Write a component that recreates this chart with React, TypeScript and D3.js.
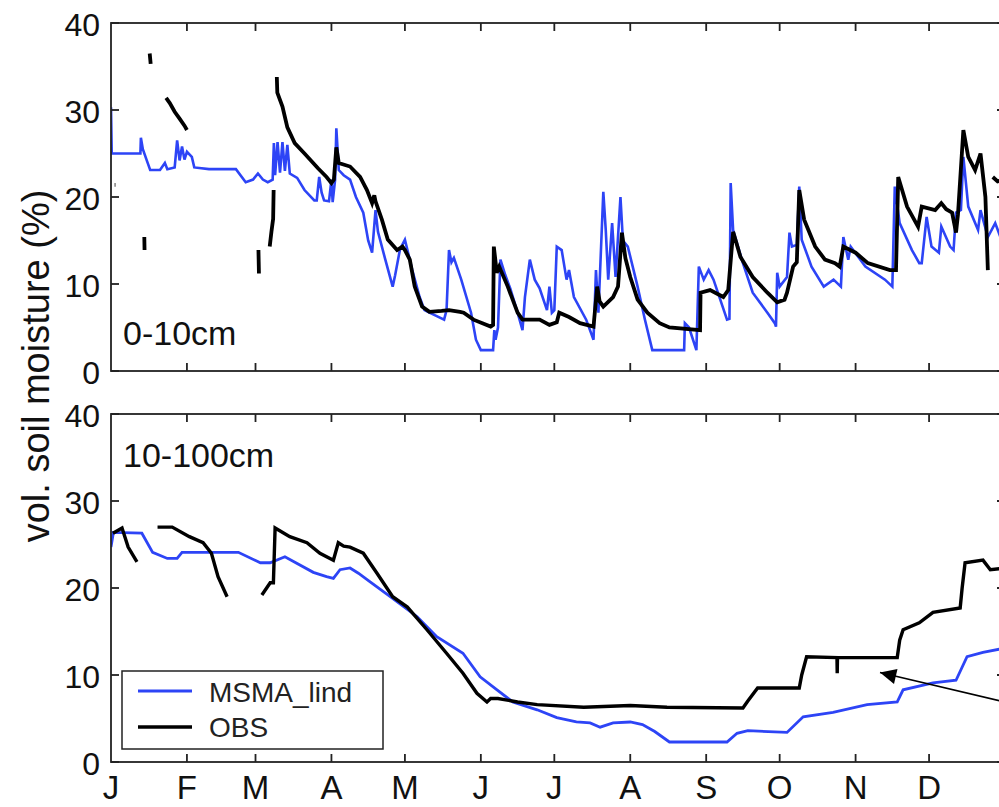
import React from "react";
import * as d3 from "d3";

type P = [number, number] | null;

const monthLabels = ["J", "F", "M", "A", "M", "J", "J", "A", "S", "O", "N", "D"];
const monthStarts = [0, 31, 59, 90, 120, 151, 181, 212, 243, 273, 304, 334];
const yTicks = [0, 10, 20, 30, 40];
const seriesNames = ["MSMA_lind", "OBS"];
const panelLabels = ["0-10cm", "10-100cm"];

const msmaTop: P[] = [
  [0, 30.3], [0.3, 25], [12, 25], [12.2, 26.8], [13, 25.5], [15, 23.9], [16, 23.1], [20, 23.1], [22, 23.9], [23, 23.2],
  [26, 23.4], [27, 26.5], [28, 24.2], [29, 25.8], [30, 24.3], [31, 25.2], [33, 24.6], [34, 23.4], [40, 23.2], [51, 23.2],
  [55, 21.7], [58, 22], [60, 22.7], [62, 22], [64, 21.7], [66, 22], [66.5, 26.2], [67, 22.5], [68, 26.3], [69, 22.8],
  [70, 26.3], [71, 23], [72, 26], [73, 22.7], [76, 22.2], [79, 20.8], [83, 19.6], [84, 19.6], [85, 22.3], [86, 20.5],
  [87, 19.6], [89, 19.5], [90, 22], [90.5, 19.4], [91.5, 22], [92, 27.9], [93, 23.1], [95, 22.5], [97.6, 22], [100, 20],
  [103, 18.2], [105, 15], [106.6, 13.6], [108, 18.5], [109, 16], [112, 12.8], [115, 9.7], [116, 11], [118, 14], [120, 15.1],
  [123, 11.6], [126, 8.5], [128, 7], [130, 6.7], [133, 6.3], [136, 5.9], [137, 7], [138, 13.9], [139, 12.5], [140, 13],
  [143, 10.5], [147, 6.7], [149, 3.6], [151, 2.4], [156, 2.4], [156.5, 4.7], [157, 3.6], [158, 5], [159, 12.8], [161, 11],
  [163, 9.5], [166, 6.7], [168, 4.7], [169, 8.5], [171, 12.8], [173, 10.5], [175, 9.5], [178, 7], [179, 9.7], [180, 6.7],
  [181, 7], [182, 14.3], [184, 13.9], [186, 10.5], [187, 11.6], [189, 8.5], [194, 5.9], [197, 3.6], [198, 11.6], [199, 6.7],
  [201, 20.6], [202, 16.2], [203, 10.5], [204.6, 17], [206, 10.8], [208, 20], [209, 15], [211, 14.3], [215, 9.7], [218, 5.9],
  [221, 2.4], [234, 2.4], [234.3, 5.5], [236, 5], [239, 2.4], [240, 12], [242, 10.5], [244, 11.6], [246, 10.5], [251.5, 5.9],
  [252.5, 6], [253, 21.6], [254, 16.2], [258, 12.4], [262, 9], [268, 6.7], [271, 5.5], [271.5, 5.1], [272, 11.3], [273, 9.7],
  [276, 10.8], [277, 15.9], [278, 14.3], [280, 14.5], [281, 21.2], [282, 15.1], [286, 12], [291, 9.7], [295, 10.5], [298, 9.7],
  [299, 15.4], [301, 12.8], [302, 14.3], [308, 12], [316, 10.5], [319, 9.7], [320, 21.2], [322, 17], [327, 13.9], [330, 12.4],
  [331, 12.4], [333, 17.7], [335, 14.3], [338, 13.6], [339, 16.6], [342.6, 14.3], [344, 13.9], [345, 18.2], [347, 18.5], [348, 24.6],
  [350, 18.9], [354, 16.2], [355, 18.5], [358, 15.4], [361, 17], [363, 15.5], [365, 15],
];

const obsTop: P[] = [
  [1.5, 21.4], [1.8, 21.4], null,
  [13.6, 15.4], [13.7, 13.9], null,
  [15.8, 36.5], [16.2, 35.3], null,
  [22.5, 31.4], [24, 30.8], [26, 29.8], [28, 29], [30, 28.2], [31, 27.7], null,
  [60.2, 13.9], [60.4, 11.2], null,
  [64.8, 14.3], [65.5, 16], [66.2, 17.5], [66.4, 20.8], null,
  [67.7, 33.8], [67.9, 32], [70, 30.4], [72, 28], [75, 26.2], [79, 25.0], [84.5, 23.3], [88, 22.3], [90, 21.6], [91, 22],
  [92, 25.7], [93, 23.9], [97.6, 23.5], [101.7, 22.3], [104.5, 20.8], [106.6, 19.3], [107.5, 20.2], [108, 19.5], [110.6, 17.4], [113, 15.1],
  [116.8, 13.9], [119, 14.3], [120, 13.9], [122, 12.8], [124, 9.7], [127, 7.4], [130, 6.8], [135, 6.9], [138, 7], [142.5, 6.8],
  [144, 6.7], [148, 5.9], [155, 5.1], [156, 5.3], [156.3, 14.3], [157.5, 11.3], [158.5, 12], [162, 9.7], [166, 6.7], [168, 5.9],
  [175, 5.9], [179, 5.3], [182, 5.6], [183, 6.7], [187, 6.2], [191.5, 5.5], [197, 5.1], [198.5, 9.7], [199.5, 8], [201, 7.4],
  [205, 8.5], [207, 9.7], [208.6, 15.9], [210, 13], [212, 10.8], [215, 8.2], [219, 6.7], [224, 5.5], [228, 5.0], [240.5, 4.7],
  [240.7, 9], [244.6, 9.3], [250, 8.5], [252, 9.3], [254, 16], [257, 13.1], [262, 10.8], [268, 9], [272, 7.9], [275, 8.2],
  [276, 9], [278.5, 12], [280, 12.5], [281, 20.8], [283, 17.4], [287.5, 14.3], [291.5, 12.8], [295.6, 12.4], [297.5, 12], [299, 14.3],
  [304, 13.6], [309, 12.4], [318, 11.6], [320.5, 11.6], [321.4, 22.3], [325, 18.9], [329.5, 16.6], [331, 18.9], [336.5, 18.5], [339, 19.3],
  [341, 18.6], [343.4, 18.2], [345, 15.9], [345.8, 18], [348, 27.7], [350, 24.6], [352.8, 23.1], [355, 25.0], [357, 20], [358, 11.6], null,
  [360, 22.3], [362, 21.8], [365, 22],
];

const msmaBottom: P[] = [
  [0, 24.7], [1, 26.4], [12.6, 26.3], [17, 24.1], [23, 23.4], [27, 23.4], [29, 24.1], [52, 24.1], [61, 22.9], [65, 22.9],
  [71, 23.6], [82.6, 21.8], [88, 21.3], [90.8, 21.1], [93.5, 22.1], [97.6, 22.3], [101, 21.7], [105.8, 20.7], [114, 19], [125, 16.7],
  [133, 14.4], [143.7, 12.5], [150.7, 9.8], [157.6, 8.3], [164, 6.9], [174, 6.0], [182, 5.1], [190, 4.6], [195.6, 4.5], [199.7, 4.0],
  [205, 4.5], [212, 4.6], [217, 4.3], [222, 3.5], [228, 2.3], [251.5, 2.3], [255.6, 3.3], [260, 3.6], [276, 3.4], [282.6, 5.2],
  [294.8, 5.7], [308.7, 6.6], [321, 6.9], [323.4, 8.3], [335.6, 9.1], [345, 9.4], [349.5, 12.1], [356, 12.6], [365, 13.1],
];

const obsBottom: P[] = [
  [0.8, 26.3], [4.5, 26.9], [7, 24.7], [10.6, 23], null,
  [19, 27], [25, 27], [32, 25.9], [37.6, 25.2], [41, 24], [43.7, 21.3], [47.4, 19], null,
  [61.6, 19.2], [65, 20.6], [66.3, 20.6], [67, 26.9], [73, 25.9], [80, 25.2], [85.3, 24], [90.8, 23.2], [92.8, 25.2], [95, 24.8],
  [97.6, 24.7], [103, 24], [108.6, 21.7], [115, 19], [121, 17.8], [129, 15.2], [137, 12.5], [143.7, 10.2], [149.4, 7.9], [153.5, 6.9],
  [155, 7.3], [158, 7.3], [166, 6.9], [174, 6.6], [193, 6.3], [212, 6.5], [227, 6.3], [258, 6.2], [260, 7], [264, 8.5],
  [281, 8.5], [282, 10], [284, 12.1], [296.4, 12], [296.5, 10.2], [296.6, 12], [304, 12], [321, 12], [322, 14], [323.4, 15.2],
  [330, 16], [335.6, 17.2], [346.7, 17.7], [347.5, 20], [348.7, 22.9], [356, 23.2], [359, 22.1], [365, 22.3],
];

const BLUE = "#2d44f6";
const FONT = "'Liberation Sans', Arial, Helvetica, sans-serif";

const x = d3.scaleLinear().domain([0, 365]).range([111, 1005]);
const panels = [
  { top: 23, bottom: 371, msma: msmaTop, obs: obsTop, label: panelLabels[0], labelY: 345, msmaW: 2.6, obsW: 3.8 },
  { top: 414, bottom: 762, msma: msmaBottom, obs: obsBottom, label: panelLabels[1], labelY: 467, msmaW: 2.8, obsW: 3.4 },
];

function Panel({ p, idx }: { p: (typeof panels)[number]; idx: number }) {
  const y = d3.scaleLinear().domain([0, 40]).range([p.bottom, p.top]);
  const line = d3
    .line<P>()
    .defined((d) => d !== null)
    .x((d) => x((d as [number, number])[0]))
    .y((d) => y((d as [number, number])[1]));
  const tl = 8;
  return (
    <g>
      <clipPath id={`clip${idx}`}>
        <rect x={x(0)} y={p.top} width={x(365) - x(0)} height={p.bottom - p.top} />
      </clipPath>
      <g clipPath={`url(#clip${idx})`}>
        <path d={line(p.msma) || ""} fill="none" stroke={BLUE} strokeWidth={p.msmaW} strokeLinejoin="miter" />
        <path d={line(p.obs) || ""} fill="none" stroke="#000" strokeWidth={p.obsW} strokeLinejoin="miter" />
      </g>
      <rect x={x(0)} y={p.top} width={x(365) - x(0)} height={p.bottom - p.top} fill="none" stroke="#222" strokeWidth={1.8} />
      {monthStarts.slice(1).map((m, i) => (
        <g key={i}>
          <line x1={x(m)} x2={x(m)} y1={p.top} y2={p.top + tl} stroke="#222" strokeWidth={1.8} />
          <line x1={x(m)} x2={x(m)} y1={p.bottom} y2={p.bottom - tl} stroke="#222" strokeWidth={1.8} />
        </g>
      ))}
      {yTicks.map((t) => (
        <g key={t}>
          <line x1={x(0)} x2={x(0) + tl} y1={y(t)} y2={y(t)} stroke="#222" strokeWidth={1.8} />
          <line x1={x(365)} x2={x(365) - tl} y1={y(t)} y2={y(t)} stroke="#222" strokeWidth={1.8} />
          <text x={100} y={y(t) + 2} textAnchor="end" dominantBaseline="central" fontSize={32} fontFamily={FONT} fill="#111">
            {t}
          </text>
        </g>
      ))}
      <text x={123} y={p.labelY} fontSize={34} fontFamily={FONT} fill="#111">
        {p.label}
      </text>
    </g>
  );
}

export default function App() {
  const lp = { x0: 122, y0: 671, x1: 383, y1: 749 };
  return (
    <svg width={999} height={807} style={{ position: "absolute", left: 0, top: 0, background: "#fff" }}>
      <rect x={0} y={0} width={999} height={807} fill="#fff" />
      {panels.map((p, i) => (
        <Panel key={i} p={p} idx={i} />
      ))}
      {monthLabels.map((m, i) => (
        <text key={i} x={x(monthStarts[i])} y={799} textAnchor="middle" fontSize={33} fontFamily={FONT} fill="#111">
          {m}
        </text>
      ))}
      <text
        transform={`translate(49,366) rotate(-90)`}
        textAnchor="middle"
        fontSize={38}
        fontFamily={FONT}
        fill="#111"
      >
        vol. soil moisture (%)
      </text>
      <rect x={lp.x0} y={lp.y0} width={lp.x1 - lp.x0} height={lp.y1 - lp.y0} fill="#fff" stroke="#222" strokeWidth={1.5} />
      <line x1={138} x2={192} y1={691} y2={691} stroke={BLUE} strokeWidth={2.8} />
      <line x1={138} x2={192} y1={727} y2={727} stroke="#000" strokeWidth={3.4} />
      <text x={209} y={702} fontSize={28} fontFamily={FONT} fill="#222">
        {seriesNames[0]}
      </text>
      <text x={209} y={737} fontSize={28} fontFamily={FONT} fill="#222">
        {seriesNames[1]}
      </text>
      <line x1={1005} x2={880} y1={702} y2={672.5} stroke="#000" strokeWidth={1.6} />
      <path d="M880,672.5 L897.5,669 L894,684 z" fill="#000" />
    </svg>
  );
}
